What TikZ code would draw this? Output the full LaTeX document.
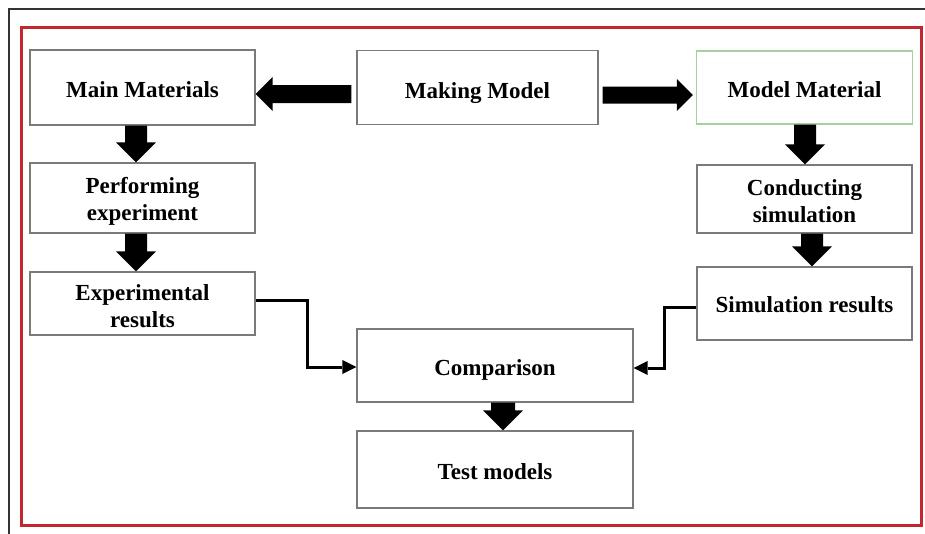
\documentclass[tikz,border=0pt]{standalone}
\usepackage{fontspec}
\setmainfont{Liberation Serif}
\usetikzlibrary{arrows.meta,calc}
\definecolor{framered}{HTML}{C1272D}
\definecolor{boxgray}{HTML}{7A7A7A}
\definecolor{boxgreen}{HTML}{A8CFA0}
% filled block arrow: from, to, half shaft width, half head width, head length
\newcommand\blockarrow[5]{%
  \fill let \p1=(#1), \p2=(#2), \p3=($(#2)!#5!(#1)$),
            \n1={atan2(\y2-\y1,\x2-\x1)} in
    ($(\p1)+(\n1+90:#3)$) -- ($(\p3)+(\n1+90:#3)$) -- ($(\p3)+(\n1+90:#4)$)
    -- (\p2) -- ($(\p3)+(\n1-90:#4)$) -- ($(\p3)+(\n1-90:#3)$)
    -- ($(\p1)+(\n1-90:#3)$) -- cycle;}
% box label: lines set on a fixed strut, lowered by the optional amount
\newcommand\boxtext[2][3pt]{\raisebox{-#1}[\height][\depth]{\begin{tabular}{@{}c@{}}#2\end{tabular}}}
\begin{document}
\begin{tikzpicture}[x=1pt,y=-1pt,
  stepbox/.style={draw=boxgray, line width=1.2pt, fill=white, inner sep=0pt,
    font=\bfseries\fontsize{23}{27}\selectfont},
  flow/.style={line width=3pt, -{Triangle[length=14pt,width=14pt,line width=0pt]}}]
\useasboundingbox (0,0) rectangle (925,533);
% outer frames
\draw[line width=1.5pt, black!80] (9,540) -- (9,9) -- (930,9);
\draw[line width=3pt, framered] (21,27) rectangle (921,525);
% boxes
\node[stepbox, minimum width=225pt, minimum height=75pt] (mm) at (142.5,87.5) {\boxtext[5pt]{Main Materials}};
\node[stepbox, minimum width=241pt, minimum height=74pt] (mk) at (477.5,87.5) {\boxtext[5.5pt]{Making Model}};
\node[stepbox, draw=boxgreen, minimum width=216pt, minimum height=73pt] (md) at (804.5,87.5) {\boxtext[5pt]{Model Material}};
\node[stepbox, minimum width=225pt, minimum height=70pt] (pe) at (142.5,198) {\boxtext[4pt]{Performing\\experiment}};
\node[stepbox, minimum width=215pt, minimum height=68pt] (cs) at (804.5,199) {\boxtext[5pt]{Conducting\\simulation}};
\node[stepbox, minimum width=225pt, minimum height=63pt] (er) at (142.5,303.5) {\boxtext[5pt]{Experimental\\results}};
\node[stepbox, minimum width=215pt, minimum height=73pt] (sr) at (804.5,303.5) {\boxtext[4pt]{Simulation results}};
\node[stepbox, minimum width=276pt, minimum height=73pt] (cp) at (495,365.5) {\boxtext[4.5pt]{Comparison}};
\node[stepbox, minimum width=276pt, minimum height=77pt] (tm) at (495,469.5) {\boxtext[4.5pt]{Test models}};
% block arrows
\blockarrow{[xshift=-5pt,yshift=-6.5pt]mk.west}{[yshift=-6.5pt]mm.east}{9pt}{17pt}{17pt}
\blockarrow{[xshift=4pt,yshift=-7.5pt]mk.east}{[xshift=-3pt,yshift=-7.5pt]md.west}{8.5pt}{16pt}{16pt}
\blockarrow{[xshift=-6.5pt]mm.south}{[xshift=-6.5pt]pe.north}{11pt}{20pt}{20pt}
\blockarrow{[xshift=-6.5pt]pe.south}{[xshift=-6.5pt]er.north}{11pt}{20pt}{20pt}
\blockarrow{[xshift=0.5pt]md.south}{[xshift=0.5pt]cs.north}{11pt}{20pt}{20pt}
\blockarrow{[xshift=7.5pt]cs.south}{[xshift=7.5pt]sr.north}{11pt}{20pt}{20pt}
\blockarrow{[xshift=8pt]cp.south}{[xshift=8pt]tm.north}{12pt}{20pt}{20pt}
% elbow connectors into the comparison
\draw[flow] ([yshift=3.5pt]er.east) -- ++(52,0) |- ([yshift=-1.5pt]cp.west);
\draw[flow] ([yshift=-3.5pt]sr.west) -- ++(-32,0) |- ([yshift=-2.5pt]cp.east);
\end{tikzpicture}
\end{document}
